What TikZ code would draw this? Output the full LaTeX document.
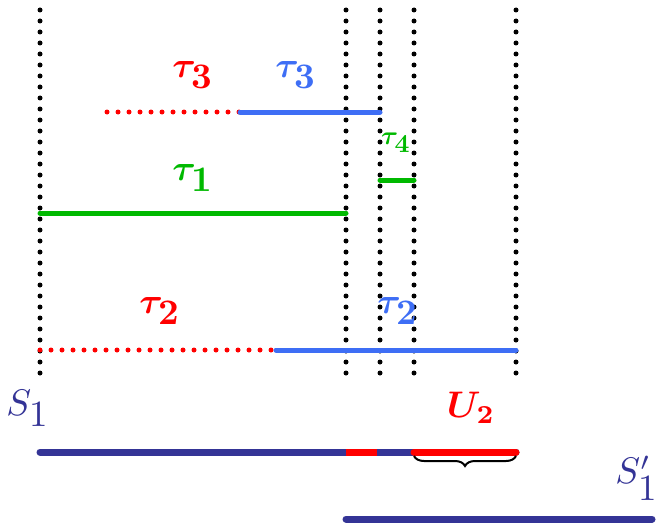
\documentclass[tikz,border=0pt]{standalone}
\usepackage{graphicx}
\usepackage{amsmath,bm}
\usetikzlibrary{decorations.pathreplacing}
\definecolor{tblue}{RGB}{62,110,245}
\definecolor{tgreen}{RGB}{0,185,0}
\definecolor{tnavy}{RGB}{52,52,150}
\definecolor{tred}{RGB}{255,0,0}
\newcommand{\tlabel}[1]{\scalebox{3.6}{$\bm{\tau}_{\textstyle\mathbf{#1}}$}}
\newcommand{\slabel}[1]{\scalebox{2.6}{$\bm{\tau}_{\textstyle\mathbf{#1}}$}}
\tikzset{
  vdots/.style={black,line width=5pt,line cap=round,dash pattern=on 0pt off 11pt},
  rdots/.style={tred,line width=5pt,line cap=round,dash pattern=on 0pt off 11pt},
  seg/.style={line width=5pt,line cap=round},
  bar/.style={line width=7pt,line cap=round},
  lab/.style={inner sep=0pt},
}
\begin{document}
\begin{tikzpicture}[x=1pt,y=-1pt]
\useasboundingbox (0,0) rectangle (660,524);
% vertical dotted lines
\foreach \n/\x in {a/40,b/346,c/380,d/414,e/516}{
  \coordinate (\n top) at (\x,10);
  \coordinate (\n bot) at (\x,384);
  \draw[vdots] (\n top) -- (\n bot);
}
% tau3
\coordinate (t3a) at (107,112);
\coordinate (t3b) at (240,112);
\coordinate (t3c) at (380,112);
\draw[rdots] (t3a) -- (t3b);
\draw[seg,tblue] (t3b) -- (t3c);
\node[lab,text=tred] (l3r) at (193,75) {\tlabel{3}};
\node[lab,text=tblue] (l3b) at (296,75) {\tlabel{3}};
% tau1
\coordinate (t1a) at (40,213);
\coordinate (t1b) at (346,213);
\draw[seg,tgreen] (t1a) -- (t1b);
\node[lab,text=tgreen] (l1) at (193,178) {\tlabel{1}};
% tau4
\coordinate (t4a) at (380,180);
\coordinate (t4b) at (414,180);
\draw[seg,tgreen] (t4a) -- (t4b);
\node[lab,text=tgreen] (l4) at (396,143) {\slabel{4}};
% tau2
\coordinate (t2a) at (40,350);
\coordinate (t2b) at (276,350);
\coordinate (t2c) at (516,350);
\draw[rdots] (t2a) -- (t2b);
\draw[seg,tblue] (t2b) -- (t2c);
\node[lab,text=tred] (l2r) at (160,311) {\tlabel{2}};
\node[lab,text=tblue] (l2b) at (398,311) {\tlabel{2}};
% S1 bar
\coordinate (s1a) at (40,452);
\coordinate (s1b) at (516,452);
\coordinate (r1a) at (346,452);
\coordinate (r1b) at (377,452);
\coordinate (r2a) at (414,452);
\draw[bar,tnavy] (s1a) -- (s1b);
\draw[line width=7pt,tred] (r1a) -- (r1b);
\draw[bar,tred] (r2a) -- (s1b);
\node[lab,text=tnavy] (S1) at (28,408) {\scalebox{3.7}{$S_{\textstyle 1}$}};
\node[lab,text=tred] (U2) at (471,408) {\scalebox{3.7}{$\bm{U}_{\mathbf{2}}$}};
% brace
\coordinate (ba) at (414,456);
\coordinate (bb) at (516,456);
\draw[line width=2pt,decorate,decoration={brace,mirror,amplitude=10pt}] (ba) -- (bb);
% S1' bar
\coordinate (s2a) at (346,519);
\coordinate (s2b) at (652,519);
\draw[bar,tnavy] (s2a) -- (s2b);
\node[lab,text=tnavy] (S1p) at (637,478) {\scalebox{3.7}{$S^{\prime}_{\textstyle 1}$}};
\end{tikzpicture}
\end{document}
